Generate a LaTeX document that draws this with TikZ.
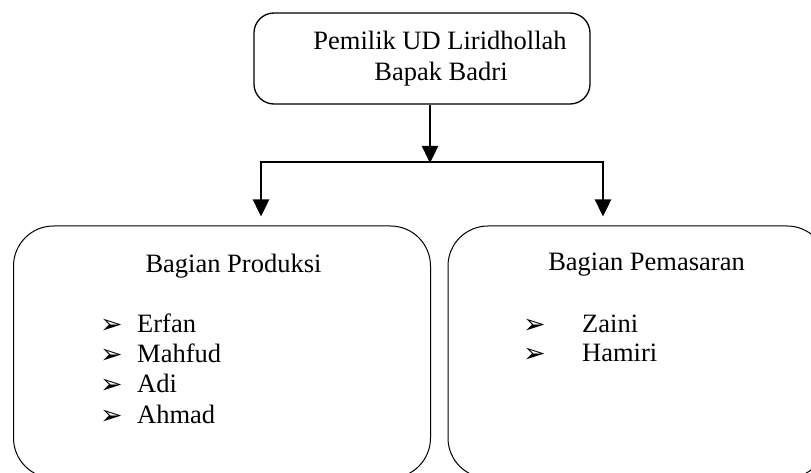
\documentclass[tikz,border=0pt]{standalone}
\usepackage{fontspec}
\setmainfont{Liberation Serif}
\newfontfamily\dingfont{DejaVu Sans}
\usetikzlibrary{arrows.meta}
\begin{document}
\begin{tikzpicture}[x=1pt,y=-1pt,
  box/.style={draw=black,rounded corners=#1,inner sep=0pt},
  txt/.style={anchor=base,inner sep=0pt,font=\fontsize{26.5}{31}\selectfont},
  itm/.style={anchor=base west,inner sep=0pt,font=\fontsize{26.5}{31}\selectfont},
  bul/.style={anchor=base west,inner sep=0pt,font=\dingfont\fontsize{27}{30}\selectfont},
  conn/.style={line width=2.4pt},
  arr/.style={line width=2.4pt,-{Triangle[width=16pt,length=17pt]}}]
\useasboundingbox (0,0) rectangle (811,473);
% boxes
\node[box=20pt,line width=1.3pt,minimum width=336pt,minimum height=91pt] (ownerbox) at (422,58.5) {};
\node[box=40pt,line width=1pt,minimum width=417pt,minimum height=252pt] (prod) at (222,352) {};
\node[box=40pt,line width=1pt,minimum width=379pt,minimum height=252pt] (mark) at (637.5,352) {};
% owner text
\node[txt] (o1) at (440,50) {Pemilik UD Liridhollah};
\node[txt] (o2) at (441,81) {Bapak Badri};
% connectors
\coordinate (j) at (430,162);
\coordinate (jl) at (261,162);
\coordinate (jr) at (603,162);
\draw[arr,shorten >=-1pt] (ownerbox.south -| j) -- (j);
\draw[conn,line cap=rect] (jl) -- (jr);
\draw[arr,shorten >=9pt] (jl) -- (prod.north -| jl);
\draw[arr,shorten >=9pt] (jr) -- (mark.north -| jr);
% produksi
\node[txt] (ph) at (233.5,272) {Bagian Produksi};
\node[bul] (pb1) at (100,333) {➢};
\node[itm] (p1) at (137,332) {Erfan};
\node[bul] (pb2) at (100,363) {➢};
\node[itm] (p2) at (137,362) {Mahfud};
\node[bul] (pb3) at (100,393) {➢};
\node[itm] (p3) at (137,392) {Adi};
\node[bul] (pb4) at (100,424) {➢};
\node[itm] (p4) at (137,423) {Ahmad};
% pemasaran
\node[txt] (mh) at (646.5,270) {Bagian Pemasaran};
\node[bul] (mb1) at (523,333) {➢};
\node[itm] (m1) at (582,332) {Zaini};
\node[bul] (mb2) at (523,362) {➢};
\node[itm] (m2) at (582,361) {Hamiri};
\end{tikzpicture}
\end{document}
